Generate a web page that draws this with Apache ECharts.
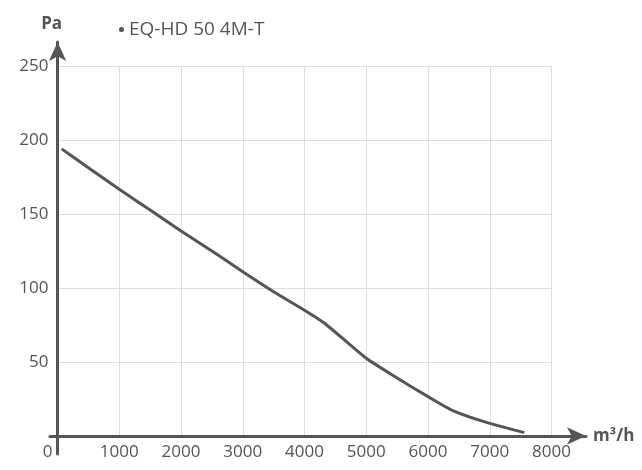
<!DOCTYPE html>
<html>
<head>
<meta charset="utf-8">
<script src="https://cdn.jsdelivr.net/npm/echarts@6/dist/echarts.min.js"></script>
<style>html,body{margin:0;padding:0;background:#fff}#c{width:642px;height:470px}</style>
</head>
<body>
<div id="c"></div>
<script>
const seriesName = 'EQ-HD 50 4M-T';
const flow = [68, 500, 1000, 1500, 2000, 2500, 3000, 3500, 4000, 4330, 5000, 5500, 6000, 6410, 7000, 7560];
const pressure = [194, 181.3, 166.7, 152.7, 138.5, 125, 111, 97.5, 85, 76, 52.5, 39.2, 26.6, 17, 8.5, 2.3];
const xTicks = [0, 1000, 2000, 3000, 4000, 5000, 6000, 7000, 8000];
const yTicks = [0, 50, 100, 150, 200, 250];
const xName = 'm³/h';
const yName = 'Pa';

const FONT = 'Open Sans';
const TXT = '#555';
const chart = echarts.init(document.getElementById('c'), null, {renderer: 'canvas'});
chart.setOption({
  animation: false,
  textStyle: {fontFamily: FONT},
  legend: {
    data: [{name: seriesName, icon: 'circle'}],
    left: 114, top: 15,
    itemWidth: 5, itemHeight: 5, itemGap: 7,
    textStyle: {color: TXT, fontSize: 19, fontFamily: FONT}
  },
  grid: [
    {left: 57.5, right: 90.5, top: 66, bottom: 34},
    {left: 50, right: 56, top: 42, bottom: 16}
  ],
  xAxis: [
    {
      type: 'value', gridIndex: 0, min: xTicks[0], max: xTicks[xTicks.length - 1], interval: 1000,
      axisLine: {show: false}, axisTick: {show: false},
      splitLine: {show: true, lineStyle: {color: '#dedede', width: 1}},
      axisLabel: {
        color: TXT, fontSize: 17, margin: 8,
        formatter: v => v === 0 ? '{z|0}' : String(v),
        rich: {z: {color: TXT, fontSize: 17, fontFamily: FONT, padding: [0, 20, 0, 0]}}
      }
    },
    {
      type: 'value', gridIndex: 1, min: -121, max: 8397,
      axisLine: {show: true, onZero: true, symbol: ['none', 'arrow'], symbolSize: [13, 19],
        lineStyle: {color: '#555', width: 3}},
      axisTick: {show: false}, axisLabel: {show: false}, splitLine: {show: false},
      name: xName, nameLocation: 'end', nameGap: 7,
      nameTextStyle: {color: TXT, fontSize: 17, fontWeight: 'bold', fontFamily: FONT, padding: [0, 0, 10, 0]}
    }
  ],
  yAxis: [
    {
      type: 'value', gridIndex: 0, min: yTicks[0], max: yTicks[yTicks.length - 1], interval: 50,
      axisLine: {show: false}, axisTick: {show: false},
      splitLine: {show: true, lineStyle: {color: '#dedede', width: 1}},
      axisLabel: {color: TXT, fontSize: 17, margin: 9, formatter: v => v === 0 ? '' : String(v)}
    },
    {
      type: 'value', gridIndex: 1, min: -12.2, max: 266.2,
      axisLine: {show: true, onZero: true, symbol: ['none', 'arrow'], symbolSize: [13, 19],
        lineStyle: {color: '#555', width: 3}},
      axisTick: {show: false}, axisLabel: {show: false}, splitLine: {show: false},
      name: yName, nameLocation: 'end', nameGap: 9,
      nameTextStyle: {color: TXT, fontSize: 17, fontWeight: 'bold', fontFamily: FONT, align: 'center', padding: [0, 12, 0, 0]}
    }
  ],
  series: [
    {
      name: seriesName, type: 'line', xAxisIndex: 0, yAxisIndex: 0,
      data: flow.map((x, i) => [x, pressure[i]]),
      showSymbol: false, smooth: 0.2,
      lineStyle: {color: '#555', width: 3},
      itemStyle: {color: '#555'}
    }
  ]
});
</script>
</body>
</html>
